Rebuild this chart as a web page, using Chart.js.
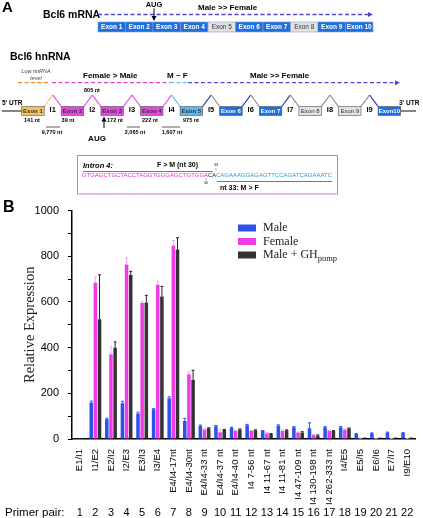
<!DOCTYPE html>
<html>
<head>
<meta charset="utf-8">
<script src="https://cdn.jsdelivr.net/npm/chart.js@4.4.1/dist/chart.umd.min.js"></script>
<style>
  html, body { margin: 0; padding: 0; background: #fff; }
  #page { position: relative; width: 423px; height: 518px; overflow: hidden; }
  #diagram { position: absolute; left: 0; top: 0; }
  #chartBox { position: absolute; left: 0; top: 195px; width: 423px; height: 323px; }
</style>
</head>
<body>
<div id="page">
  <canvas id="diagram" width="423" height="195"></canvas>
  <div id="chartBox"><canvas id="exprChart"></canvas></div>
</div>
<script>
// Data panel B
const primerNames = ['E1/I1', 'I1/E2', 'E2/I2', 'I2/E3', 'E3/I3', 'I3/E4', 'E4/I4-17nt', 'E4/I4-30nt',
    'E4/I4-33 nt', 'E4/I4-37 nt', 'E4/I4-40 nt', 'I4 7-56 nt', 'I4 11-67 nt', 'I4 11-81 nt',
    'I4 47-109 nt', 'I4 130-198 nt', 'I4 262-333 nt', 'I4/E5', 'E5/I5', 'E6/I6', 'E7/I7', 'I9/E10'];
const primerPairs = ['1', '2', '3', '4', '5', '6', '7', '8', '9', '10', '11', '12', '13', '14', '15',
    '16', '17', '18', '19', '20', '21', '22'];
const male      = [1, 160, 86, 156, 112, 130, 178, 79, 58, 56, 49, 60, 35, 58, 51, 47, 51, 51, 22, 25, 28, 26];
const maleErr   = [0, 6, 5, 9, 5, 3, 7, 11, 3, 3, 3, 4, 2, 4, 3, 24, 3, 4, 2, 2, 2, 2];
const female    = [1, 684, 371, 764, 595, 675, 847, 284, 42, 30, 36, 35, 25, 35, 28, 18, 36, 41, 3, 2, 2, 2];
const femaleErr = [0, 25, 32, 28, 6, 16, 22, 10, 3, 10, 3, 3, 2, 4, 2, 2, 3, 3, 1, 1, 1, 1];
const maleGH    = [1, 524, 399, 718, 598, 624, 830, 258, 47, 39, 42, 38, 22, 38, 29, 14, 35, 46, 3, 3, 3, 3];
const maleGHErr = [0, 195, 26, 16, 31, 44, 51, 43, 2, 3, 2, 2, 2, 2, 3, 4, 2, 2, 1, 1, 1, 1];
const seriesNames = ['Male', 'Female', 'Male + GH'];
const seriesSub = ['', '', 'pump'];

const SANS = '"Liberation Sans", Arial, sans-serif';
const SERIF = '"Liberation Serif", "Times New Roman", serif';

// ---------- Panel A: gene diagram (plain canvas) ----------
const dg = document.getElementById('diagram').getContext('2d');

function txt(s, x, y, size, opt) {
    opt = opt || {};
    dg.font = (opt.style || '') + ' ' + (opt.weight || 'bold') + ' ' + size + 'px ' + SANS;
    dg.fillStyle = opt.color || '#000';
    dg.textAlign = opt.align || 'left';
    dg.textBaseline = 'middle';
    dg.fillText(s, x, y);
}
function line(x1, y1, x2, y2, color, w) {
    dg.strokeStyle = color; dg.lineWidth = w || 1;
    dg.beginPath(); dg.moveTo(x1, y1); dg.lineTo(x2, y2); dg.stroke();
}
function dash(x1, x2, y, color) {
    dg.save();
    dg.setLineDash([4, 2.5]);
    line(x1, y, x2, y, color, 1.3);
    dg.restore();
}
function head(x, y, dir, color) {
    dg.fillStyle = color;
    dg.beginPath();
    if (dir === 'right') { dg.moveTo(x, y); dg.lineTo(x - 5, y - 2.5); dg.lineTo(x - 5, y + 2.5); }
    if (dir === 'down') { dg.moveTo(x, y); dg.lineTo(x - 2.5, y - 5); dg.lineTo(x + 2.5, y - 5); }
    if (dir === 'up') { dg.moveTo(x, y); dg.lineTo(x - 2.5, y + 5); dg.lineTo(x + 2.5, y + 5); }
    dg.closePath(); dg.fill();
}
function fitText(s, x, y, w, size, color) {
    dg.font = size + 'px ' + SANS;
    const m = dg.measureText(s).width;
    dg.save();
    dg.translate(x, y);
    dg.scale(w / m, 1);
    dg.fillStyle = color; dg.textAlign = 'left'; dg.textBaseline = 'middle';
    dg.fillText(s, 0, 0);
    dg.restore();
}

const BLUE = '#1f6fdc', GREY = '#e2e2e2', MAG = '#e447e4', LBLUE = '#5cb8e8', ORANGE = '#f4c263';
const DASHBLUE = '#4a4ad0';

txt('A', 2, 8, 15);
txt('Bcl6 mRNA', 43, 15, 10.5);
dash(98, 368, 14.5, DASHBLUE);
head(373, 14.5, 'right', DASHBLUE);
txt('AUG', 154, 4.5, 7.5, { align: 'center' });
line(154, 8.5, 154, 17, '#000', 1);
head(154, 21, 'down', '#000');
txt('Male >> Female', 198, 8, 8);

const mrnaFill = [BLUE, BLUE, BLUE, BLUE, GREY, BLUE, BLUE, GREY, BLUE, BLUE];
mrnaFill.forEach((f, i) => {
    const x = 98 + i * 27.5;
    dg.fillStyle = f; dg.fillRect(x, 22, 27.5, 10);
    dg.strokeStyle = '#7f9fd8'; dg.lineWidth = 0.6; dg.strokeRect(x, 22, 27.5, 10);
    if (f === BLUE) txt('Exon ' + (i + 1), x + 13.75, 27.2, 6.5, { color: '#fff', align: 'center' });
    else txt('Exon ' + (i + 1), x + 13.75, 27.2, 6.5, { color: '#333', weight: 'normal', align: 'center' });
});

txt('Bcl6 hnRNA', 10, 57, 10.5);
txt('Low hnRNA', 36, 71, 5.5, { align: 'center', style: 'italic', weight: 'normal', color: '#444' });
txt('level', 36, 78, 5.5, { align: 'center', style: 'italic', weight: 'normal', color: '#444' });
dash(18, 50, 82.7, '#f08a30');
dash(52, 170, 82.7, '#e040d8');
dash(170, 188, 82.7, '#60c0f0');
dash(188, 395, 82.7, DASHBLUE);
head(400, 82.7, 'right', DASHBLUE);
txt('Female > Male', 83, 76, 8);
txt('M ~ F', 167, 76, 8);
txt('Male >> Female', 250, 76, 8);
txt('805 nt', 92, 90.5, 5.5, { align: 'center' });

line(2, 111, 22, 111, '#333', 1.2);
line(400, 111, 416, 111, '#333', 1.2);
txt("5' UTR", 2, 103, 6.5);
txt("3' UTR", 399, 103, 6.5);

const hnFill = [ORANGE, MAG, MAG, MAG, LBLUE, BLUE, BLUE, GREY, GREY, BLUE];
const DKB = '#1f2fa8', GRY = '#8a8a8a';
const intronCol = [[ORANGE, MAG], [MAG, MAG], [MAG, MAG], [MAG, LBLUE], [DKB, GRY], [DKB, GRY], [DKB, GRY], [GRY, GRY], [GRY, DKB]];
const exX = i => 21.7 + 39.6 * i;
intronCol.forEach((c, i) => {
    const x1 = exX(i) + 22.5, x2 = exX(i + 1), px = (x1 + x2) / 2;
    line(x1, 106.5, px, 95, c[0], 1.2);
    line(px, 95, x2, 106.5, c[1], 1.2);
    txt('I' + (i + 1), px, 109.5, 7.5, { align: 'center' });
});
hnFill.forEach((f, i) => {
    const x = exX(i);
    dg.fillStyle = f; dg.fillRect(x, 106.5, 22.5, 9);
    dg.strokeStyle = '#555'; dg.lineWidth = 0.6; dg.strokeRect(x, 106.5, 22.5, 9);
    const light = f === ORANGE || f === GREY || f === LBLUE || f === MAG;
    const label = i === 9 ? 'Exon10' : 'Exon ' + (i + 1);
    txt(label, x + 11.25, 111.2, 6, { align: 'center', color: light ? '#333' : '#fff', weight: f === GREY ? 'normal' : 'bold' });
});
[['141 nt', 32], ['39 nt', 68], ['172 nt', 115], ['222 nt', 150], ['975 nt', 191]].forEach(p => {
    txt(p[0], p[1], 120, 5.5, { align: 'center' });
});
[['9,770 nt', 52, 46, 60], ['2,065 nt', 135, 127, 140], ['1,607 nt', 172, 162, 180]].forEach(p => {
    line(p[2], 127, p[3], 127, '#333', 0.8);
    txt(p[0], p[1], 132, 5.5, { align: 'center' });
});
line(104, 128, 104, 120, '#000', 1);
head(104, 116.5, 'up', '#000');
txt('AUG', 97, 138.5, 8, { align: 'center' });

// Intron 4 sequence box
dg.strokeStyle = '#c77dc7'; dg.lineWidth = 1; dg.strokeRect(77.5, 155.5, 260, 38.5);
txt('Intron 4:', 83, 165.5, 7.5, { style: 'italic' });
txt('F > M (nt 30)', 157, 165.5, 7);
line(83, 171.5, 213, 171.5, '#555', 0.8);
txt('33', 216, 165.5, 3.5, { align: 'center', weight: 'normal' });
line(216, 168, 216, 171, '#777', 0.5);
fitText('GTGAGCTGCTACCTAGGTGGGAGCTGTGGA', 82, 175.5, 126, 6, '#e030d8');
fitText('CA', 208, 175.5, 8, 6, '#222');
fitText('CAGAAAGGAGAGTTCCAGATCAGAAATC', 216, 175.5, 116, 6, '#2a9be0');
line(206, 177.5, 206, 180.5, '#777', 0.5);
txt('30', 206, 183.5, 3.5, { align: 'center', weight: 'normal' });
line(217, 181.5, 332, 181.5, '#555', 0.8);
txt('nt 33: M > F', 220, 188, 7);

// ---------- Panel B: Chart.js ----------
const errorBars = {
    id: 'errorBars',
    afterDatasetsDraw(chart) {
        const ctx = chart.ctx, y = chart.scales.y;
        chart.data.datasets.forEach((ds, i) => {
            chart.getDatasetMeta(i).data.forEach((bar, j) => {
                const err = ds.errors[j];
                if (!err) return;
                const top = y.getPixelForValue(ds.data[j] + err);
                ctx.save();
                ctx.strokeStyle = ds.errorColor; ctx.lineWidth = 1;
                ctx.beginPath();
                ctx.moveTo(bar.x, bar.y); ctx.lineTo(bar.x, top);
                ctx.moveTo(bar.x - 1.5, top); ctx.lineTo(bar.x + 1.5, top);
                ctx.stroke();
                ctx.restore();
            });
        });
    }
};

const extras = {
    id: 'extras',
    afterDraw(chart) {
        const ctx = chart.ctx, x = chart.scales.x;
        ctx.save();
        // panel letter
        ctx.font = 'bold 16px ' + SANS; ctx.fillStyle = '#000';
        ctx.textAlign = 'left'; ctx.textBaseline = 'middle';
        ctx.fillText('B', 3, 13);
        // legend
        chart.data.datasets.forEach((ds, i) => {
            const yy = 33 + i * 13.5;
            ctx.fillStyle = ds.backgroundColor;
            ctx.fillRect(238, yy - 3.5, 18, 7);
            ctx.fillStyle = '#222';
            ctx.font = '12px ' + SERIF; ctx.textBaseline = 'middle';
            ctx.fillText(ds.label, 263, yy);
            if (seriesSub[i]) {
                const w = ctx.measureText(ds.label).width;
                ctx.font = '8.5px ' + SERIF;
                ctx.fillText(seriesSub[i], 263 + w, yy + 4);
            }
        });
        // primer pair row
        ctx.fillStyle = '#000'; ctx.textBaseline = 'middle';
        ctx.font = '11.5px ' + SANS; ctx.textAlign = 'left';
        ctx.fillText('Primer pair:', 5, 318);
        ctx.font = '11px ' + SANS; ctx.textAlign = 'center';
        primerPairs.forEach((p, i) => ctx.fillText(p, x.getPixelForValue(i), 318));
        ctx.restore();
    }
};

new Chart(document.getElementById('exprChart'), {
    type: 'bar',
    data: {
        labels: primerNames,
        datasets: [
            { label: seriesNames[0], data: male, errors: maleErr, backgroundColor: '#2c52ee', errorColor: '#2c52ee' },
            { label: seriesNames[1], data: female, errors: femaleErr, backgroundColor: '#f03ce6', errorColor: '#f6a0f0' },
            { label: seriesNames[2], data: maleGH, errors: maleGHErr, backgroundColor: '#333333', errorColor: '#222222' }
        ]
    },
    options: {
        responsive: true,
        maintainAspectRatio: false,
        animation: false,
        categoryPercentage: 0.8,
        barPercentage: 0.85,
        layout: { padding: { top: 15, right: 8, left: 0, bottom: 0 } },
        plugins: { legend: { display: false }, tooltip: { enabled: false } },
        scales: {
            x: {
                grid: { display: false },
                border: { color: '#000', width: 1.5 },
                ticks: {
                    autoSkip: false, minRotation: 90, maxRotation: 90, padding: 2,
                    color: '#000', font: { family: SANS, size: 9.5 }
                },
                afterFit: s => { s.height = 79; }
            },
            y: {
                min: 0, max: 1000,
                border: { color: '#000', width: 1.5 },
                grid: { drawOnChartArea: false, tickLength: 4, color: '#000' },
                ticks: {
                    stepSize: 100, padding: 9, color: '#000',
                    font: { family: SANS, size: 11 },
                    callback: v => (v % 200 === 0 ? v : '')
                },
                title: {
                    display: true, text: 'Relative Expression', color: '#222',
                    font: { family: SERIF, size: 14.5 }, padding: { top: 21 }
                },
                afterFit: s => { s.width = 72; }
            }
        }
    },
    plugins: [errorBars, extras]
});
</script>
</body>
</html>
